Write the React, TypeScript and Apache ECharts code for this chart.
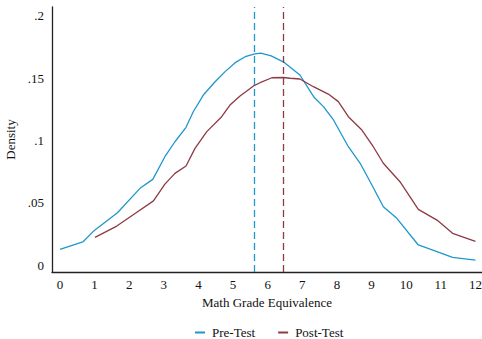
import React, { useEffect, useRef } from "react";
import * as echarts from "echarts";

const preTest: [number, number][] = [
  [0, 0.0126], [0.66, 0.0185], [1.0, 0.028], [1.66, 0.042], [2.31, 0.0616], [2.68, 0.0688],
  [3.03, 0.087], [3.32, 0.099], [3.64, 0.1106], [3.85, 0.1231], [4.14, 0.1365], [4.48, 0.1472],
  [4.77, 0.1553], [5.06, 0.1625], [5.35, 0.1673], [5.63, 0.1695], [5.8, 0.1702], [6.1, 0.168],
  [6.45, 0.1632], [6.65, 0.1588], [6.93, 0.1526], [7.34, 0.1347], [7.61, 0.1272], [7.9, 0.1165],
  [8.33, 0.095], [8.67, 0.0817], [9.01, 0.0643], [9.34, 0.0468], [9.73, 0.0375], [10.35, 0.0161],
  [10.85, 0.0112], [11.34, 0.0062], [12.0, 0.004],
];

const postTest: [number, number][] = [
  [1.01, 0.0222], [1.64, 0.0313], [2.2, 0.042], [2.7, 0.0515], [3.03, 0.065], [3.32, 0.0736],
  [3.64, 0.0795], [3.9, 0.0937], [4.24, 0.1071], [4.67, 0.1191], [4.91, 0.1285], [5.2, 0.1357],
  [5.59, 0.1438], [5.78, 0.1464], [6.12, 0.1504], [6.45, 0.1506], [6.65, 0.15], [6.93, 0.1494],
  [7.32, 0.1432], [7.75, 0.1373], [8.04, 0.1312], [8.33, 0.1191], [8.72, 0.1084], [9.05, 0.095],
  [9.34, 0.0817], [9.82, 0.0669], [10.35, 0.0447], [10.89, 0.0361], [11.34, 0.0255], [12.0, 0.019],
];

const preMean = 5.62;
const postMean = 6.45;

const xTicks = [0, 1, 2, 3, 4, 5, 6, 7, 8, 9, 10, 11, 12];
const yTicks = [0, 0.05, 0.1, 0.15, 0.2];
const yTickLabels = ["0", ".05", ".1", ".15", ".2"];

const BLUE = "#1f97cc";
const RED = "#8e3a44";
const FONT = "Liberation Serif";

export default function App() {
  const ref = useRef<HTMLDivElement>(null);
  useEffect(() => {
    if (!ref.current) return;
    const chart = echarts.init(ref.current, null, { renderer: "svg" });
    chart.setOption({
      animation: false,
      backgroundColor: "#ffffff",
      textStyle: { fontFamily: FONT },
      grid: { left: 52, right: 0, top: 7, bottom: 67, outerBoundsMode: "none", containLabel: false },
      legend: {
        left: 195,
        top: 326,
        padding: 0,
        itemWidth: 10,
        itemHeight: 2,
        itemGap: 23,
        icon: "rect",
        textStyle: { fontFamily: FONT, fontSize: 13, color: "#111", padding: [0, 0, 0, 2] },
        data: ["Pre-Test", "Post-Test"],
      },
      xAxis: {
        type: "value",
        min: -0.231,
        max: 12.19,
        name: "Math Grade Equivalence",
        nameLocation: "middle",
        nameGap: 24,
        nameTextStyle: { fontFamily: FONT, fontSize: 13, color: "#111" },
        axisLine: { show: true, onZero: false, lineStyle: { color: "#222", width: 1.3 } },
        axisTick: { show: false },
        splitLine: { show: false },
        axisLabel: {
          customValues: xTicks,
          fontFamily: FONT,
          fontSize: 13,
          color: "#111",
          margin: 6,
          formatter: (v: number) => String(Math.round(v)),
        },
      },
      yAxis: {
        type: "value",
        min: -0.0056,
        max: 0.2072,
        name: "Density",
        nameLocation: "middle",
        nameGap: 33,
        nameTextStyle: { fontFamily: FONT, fontSize: 13, color: "#111" },
        axisLine: { show: true, onZero: false, lineStyle: { color: "#222", width: 1.3 } },
        axisTick: { show: false },
        splitLine: { show: false },
        axisLabel: {
          customValues: yTicks,
          fontFamily: FONT,
          fontSize: 13,
          color: "#111",
          margin: 8,
          formatter: (v: number) => {
            const i = yTicks.findIndex((t) => Math.abs(t - v) < 1e-6);
            return i >= 0 ? yTickLabels[i] : "";
          },
        },
      },
      series: [
        {
          name: "Pre-Test",
          type: "line",
          data: preTest,
          showSymbol: false,
          symbol: "none",
          color: BLUE,
          lineStyle: { color: BLUE, width: 1.3 },
          markLine: {
            silent: true,
            symbol: "none",
            label: { show: false },
            lineStyle: { color: BLUE, width: 1.3, type: [7, 4] },
            data: [{ xAxis: preMean }],
          },
        },
        {
          name: "Post-Test",
          type: "line",
          data: postTest,
          showSymbol: false,
          symbol: "none",
          color: RED,
          lineStyle: { color: RED, width: 1.3 },
          markLine: {
            silent: true,
            symbol: "none",
            label: { show: false },
            lineStyle: { color: RED, width: 1.3, type: [7, 4] },
            data: [{ xAxis: postMean }],
          },
        },
      ],
    });
    return () => chart.dispose();
  }, []);
  return <div ref={ref} style={{ width: 482, height: 339, position: "absolute", left: 0, top: 0 }} />;
}
